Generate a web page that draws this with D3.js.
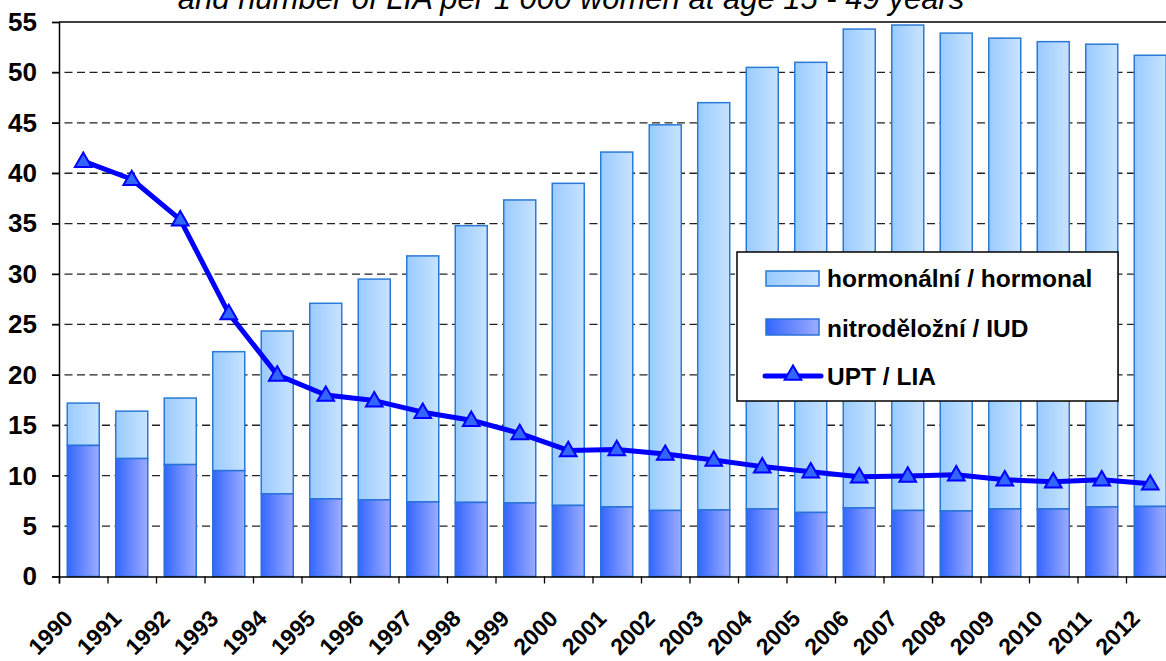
<!DOCTYPE html>
<html>
<head>
<meta charset="utf-8">
<script src="https://cdn.jsdelivr.net/npm/d3@7"></script>
<style>
  body { margin: 0; background: #fff; }
  #chart text { font-family: Arial, "Liberation Sans", sans-serif; }
</style>
</head>
<body>
<div id="chart"></div>
<script>
  let years = [
    "1990", "1991", "1992", "1993", "1994", "1995", "1996", "1997",
    "1998", "1999", "2000", "2001", "2002", "2003", "2004", "2005",
    "2006", "2007", "2008", "2009", "2010", "2011", "2012",
  ];
  // nitroděložní / IUD
  let iud = [
    13.0, 11.7, 11.1, 10.5, 8.2, 7.7, 7.6, 7.4, 7.35, 7.3, 7.05, 6.9,
    6.55, 6.6, 6.7, 6.35, 6.8, 6.55, 6.5, 6.7, 6.7, 6.9, 6.95,
  ];
  // top of the stacked bar (IUD + hormonal)
  let total = [
    17.2, 16.4, 17.7, 22.3, 24.35, 27.1, 29.5, 31.8, 34.8, 37.35, 39.0, 42.1,
    44.8, 47.0, 50.5, 51.0, 54.3, 54.7, 53.9, 53.4, 53.05, 52.8, 51.7,
  ];
  // UPT / LIA
  let upt = [
    41.2, 39.4, 35.4, 26.1, 20.0, 18.0, 17.45, 16.3, 15.5, 14.2, 12.5, 12.6,
    12.15, 11.55, 10.9, 10.4, 9.9, 9.97, 10.1, 9.6, 9.4, 9.6, 9.2,
  ];
  let yTicks = [0, 5, 10, 15, 20, 25, 30, 35, 40, 45, 50, 55];
  let legendLabels = ["hormonální / hormonal", "nitroděložní / IUD", "UPT / LIA"];
  let titleText = "and number of LIA per 1 000 women at age 15 - 49 years";

  let width = 1166;
  let height = 661;
  let plot = { left: 59, right: 1174.5, top: 22, bottom: 576.5 };

  let data = years.map((y, i) => ({
    year: y,
    iud: iud[i],
    hormonal: total[i] - iud[i],
    upt: upt[i],
  }));

  let svg = d3
    .select("#chart")
    .append("svg")
    .attr("width", width)
    .attr("height", height);

  let defs = svg.append("defs");
  let grad = (id, from, to) => {
    let g = defs
      .append("linearGradient")
      .attr("id", id)
      .attr("x1", "0%")
      .attr("x2", "100%")
      .attr("y1", "0%")
      .attr("y2", "0%");
    g.append("stop").attr("offset", "0%").attr("stop-color", from);
    g.append("stop").attr("offset", "100%").attr("stop-color", to);
  };
  grad("gHorm", "#99cbff", "#c8e3ff");
  grad("gIud", "#3366ff", "#9dacff");

  let xScale = d3
    .scaleBand()
    .domain(years)
    .range([plot.left, plot.right])
    .paddingInner(0.34)
    .paddingOuter(0.17);

  let xEdge = d3
    .scaleLinear()
    .domain([0, years.length])
    .range([plot.left, plot.right]);

  let yScale = d3.scaleLinear().domain([0, 55]).range([plot.bottom, plot.top]);

  // title (only the lower line is in view)
  svg
    .append("text")
    .attr("x", 571)
    .attr("y", 9)
    .attr("text-anchor", "middle")
    .attr("font-size", 31)
    .attr("font-style", "italic")
    .text(titleText);

  // dashed grid lines
  svg
    .append("g")
    .selectAll("line")
    .data(yTicks.filter((d) => d > 0 && d < 55))
    .enter()
    .append("line")
    .attr("x1", 52)
    .attr("x2", width)
    .attr("y1", (d) => yScale(d))
    .attr("y2", (d) => yScale(d))
    .attr("stroke", "#222")
    .attr("stroke-width", 1.3)
    .attr("stroke-dasharray", "8,4.5");

  // top border
  svg
    .append("line")
    .attr("x1", plot.left)
    .attr("x2", width)
    .attr("y1", yScale(55))
    .attr("y2", yScale(55))
    .attr("stroke", "#000")
    .attr("stroke-width", 1.5);

  let bars = svg.append("g");

  bars
    .selectAll(".horm")
    .data(data)
    .enter()
    .append("rect")
    .attr("x", (d) => xScale(d.year))
    .attr("width", xScale.bandwidth())
    .attr("y", (d) => yScale(d.iud + d.hormonal))
    .attr("height", (d) => yScale(d.iud) - yScale(d.iud + d.hormonal))
    .attr("fill", "url(#gHorm)")
    .attr("stroke", "#2a7ad8")
    .attr("stroke-width", 1.5);

  bars
    .selectAll(".iud")
    .data(data)
    .enter()
    .append("rect")
    .attr("x", (d) => xScale(d.year))
    .attr("width", xScale.bandwidth())
    .attr("y", (d) => yScale(d.iud))
    .attr("height", (d) => yScale(0) - yScale(d.iud))
    .attr("fill", "url(#gIud)")
    .attr("stroke", "#2a72d8")
    .attr("stroke-width", 1.5);

  // y axis
  svg
    .append("g")
    .attr("transform", `translate(${plot.left}, 0)`)
    .call(
      d3.axisLeft(yScale).tickValues(yTicks).tickSize(7).tickPadding(15)
    )
    .call((g) => g.select(".domain").attr("stroke-width", 1.5))
    .call((g) => g.selectAll(".tick line").attr("stroke-width", 1.3))
    .call((g) =>
      g
        .selectAll(".tick text")
        .attr("font-size", 26)
        .attr("font-weight", "bold")
        .attr("fill", "#000")
    );

  // x axis with ticks between categories
  svg
    .append("g")
    .attr("transform", `translate(0, ${plot.bottom})`)
    .call(
      d3
        .axisBottom(xEdge)
        .tickValues(d3.range(0, years.length + 1))
        .tickSize(7)
        .tickFormat("")
    )
    .call((g) => g.select(".domain").attr("stroke-width", 1.5))
    .call((g) => g.selectAll(".tick line").attr("stroke-width", 1.3));

  svg
    .append("g")
    .selectAll("text")
    .data(years)
    .enter()
    .append("text")
    .attr(
      "transform",
      (d) =>
        `translate(${xScale(d) + xScale.bandwidth() / 2 - 9}, 620) rotate(-45)`
    )
    .attr("text-anchor", "end")
    .attr("font-size", 23)
    .attr("font-weight", "bold")
    .text((d) => d);

  // UPT line
  let cx = (d) => xScale(d.year) + xScale.bandwidth() / 2;
  let line = d3
    .line()
    .x(cx)
    .y((d) => yScale(d.upt));

  svg
    .append("path")
    .datum(data)
    .attr("d", line)
    .attr("fill", "none")
    .attr("stroke", "#0000ff")
    .attr("stroke-width", 5)
    .attr("stroke-linejoin", "round");

  let tri = d3.symbol().type(d3.symbolTriangle).size(120);
  svg
    .append("g")
    .selectAll("path")
    .data(data)
    .enter()
    .append("path")
    .attr("d", tri)
    .attr("transform", (d) => `translate(${cx(d)}, ${yScale(d.upt) + 1})`)
    .attr("fill", "#3366ff")
    .attr("stroke", "#0000ff")
    .attr("stroke-width", 2);

  // legend
  let legend = svg.append("g").attr("transform", "translate(737, 252)");
  legend
    .append("rect")
    .attr("width", 381)
    .attr("height", 149)
    .attr("fill", "#fff")
    .attr("stroke", "#000")
    .attr("stroke-width", 1.5);

  let rowY = [26, 76, 124];
  legend
    .append("rect")
    .attr("x", 29)
    .attr("y", rowY[0] - 7)
    .attr("width", 53)
    .attr("height", 15)
    .attr("fill", "url(#gHorm)")
    .attr("stroke", "#2a7ad8")
    .attr("stroke-width", 1.5);
  legend
    .append("rect")
    .attr("x", 29)
    .attr("y", rowY[1] - 9)
    .attr("width", 53)
    .attr("height", 16)
    .attr("fill", "url(#gIud)")
    .attr("stroke", "#2a72d8")
    .attr("stroke-width", 1.5);
  legend
    .append("line")
    .attr("x1", 28)
    .attr("x2", 84)
    .attr("y1", rowY[2])
    .attr("y2", rowY[2])
    .attr("stroke", "#0000ff")
    .attr("stroke-width", 5)
    .attr("stroke-linecap", "round");
  legend
    .append("path")
    .attr("d", tri)
    .attr("transform", `translate(56, ${rowY[2] - 1})`)
    .attr("fill", "#3366ff")
    .attr("stroke", "#0000ff")
    .attr("stroke-width", 2);

  legend
    .selectAll(".lbl")
    .data(legendLabels)
    .enter()
    .append("text")
    .attr("x", 90)
    .attr("y", (d, i) => rowY[i] + 9)
    .attr("font-size", 24.5)
    .attr("font-weight", "bold")
    .text((d) => d);
</script>
</body>
</html>
